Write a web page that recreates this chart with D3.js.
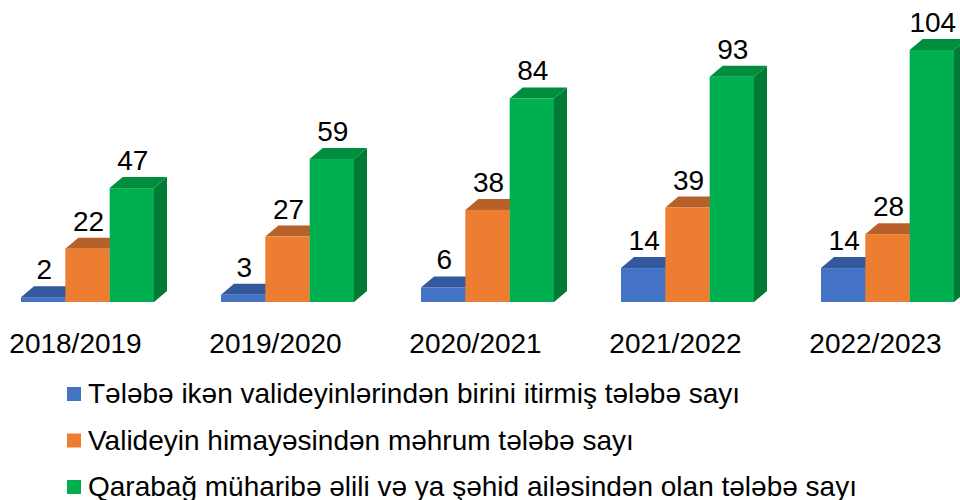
<!DOCTYPE html>
<html lang="az">
<head>
  <meta charset="UTF-8">
  <title>Tələbə sayı</title>
  <script src="https://d3js.org/d3.v7.min.js"></script>
  <style>
    body { margin: 0; background: #fff; }
    text { font-family: "Liberation Sans", Arial, sans-serif; fill: #000; }
  </style>
</head>
<body>
<svg id="chart" width="960" height="500"></svg>
<script>
  // data
  const years = ["2018/2019", "2019/2020", "2020/2021", "2021/2022", "2022/2023"];
  const seriesNames = [
    "Tələbə ikən valideyinlərindən birini itirmiş tələbə sayı",
    "Valideyin himayəsindən məhrum tələbə sayı",
    "Qarabağ müharibə əlili və ya şəhid ailəsindən olan tələbə sayı"
  ];
  const lostParent = [2, 3, 6, 14, 14];
  const noCare = [22, 27, 38, 39, 28];
  const karabakh = [47, 59, 84, 93, 104];

  const seriesValues = [lostParent, noCare, karabakh];
  const front = ["#4472C4", "#ED7D31", "#00B050"];
  const topCol = ["#34589C", "#B8602A", "#008E3E"];
  const sideCol = ["#2E4F8C", "#A9561F", "#007A35"];

  const svg = d3.select("#chart");
  const dx = 13, dy = -11;   // depth of the 3d boxes

  const x = d3.scaleBand().domain(years).range([21, 954]).paddingInner(0.335).paddingOuter(0);
  const xs = d3.scaleBand().domain(d3.range(3)).range([0, x.bandwidth()]);
  const y = d3.scaleLinear().domain([0, 104]).range([302, 50]);

  const rows = [];
  years.forEach((yr, i) => {
    seriesValues.forEach((vals, s) => rows.push({ yr, s, v: vals[i] }));
  });

  const bars = svg.append("g").selectAll("g.bar").data(rows).join("g").attr("class", "bar");

  bars.each(function(d) {
    const g = d3.select(this);
    const x0 = x(d.yr) + xs(d.s), x1 = x0 + xs.bandwidth();
    const yt = y(d.v), yb = y(0);
    // side face
    g.append("path")
      .attr("d", `M${x1},${yb}L${x1 + dx},${yb + dy}L${x1 + dx},${yt + dy}L${x1},${yt}Z`)
      .attr("fill", sideCol[d.s]);
    // top face
    g.append("path")
      .attr("d", `M${x0},${yt}L${x0 + dx},${yt + dy}L${x1 + dx},${yt + dy}L${x1},${yt}Z`)
      .attr("fill", topCol[d.s]);
    // front face
    g.append("rect")
      .attr("x", x0).attr("y", yt)
      .attr("width", x1 - x0).attr("height", yb - yt)
      .attr("fill", front[d.s]);
  });

  // value labels
  svg.append("g").selectAll("text").data(rows).join("text")
    .attr("x", d => x(d.yr) + xs(d.s) + xs.bandwidth() / 2 + 1)
    .attr("y", d => y(d.v) + dy - 7)
    .attr("text-anchor", "middle")
    .style("font-size", "28px")
    .text(d => d.v);

  // category labels
  svg.append("g").selectAll("text").data(years).join("text")
    .attr("x", d => x(d) + x.bandwidth() / 2 - 12)
    .attr("y", 353)
    .attr("text-anchor", "middle")
    .style("font-size", "28px")
    .text(d => d);

  // legend
  const legend = svg.append("g").selectAll("g").data(seriesNames).join("g")
    .attr("transform", (d, i) => `translate(67, ${394 + i * 46.5})`);
  legend.append("rect")
    .attr("x", 0).attr("y", -7).attr("width", 14).attr("height", 14)
    .attr("fill", (d, i) => front[i]);
  legend.append("text")
    .attr("x", 21).attr("y", 9)
    .style("font-size", "28px")
    .text(d => d);
</script>
</body>
</html>
